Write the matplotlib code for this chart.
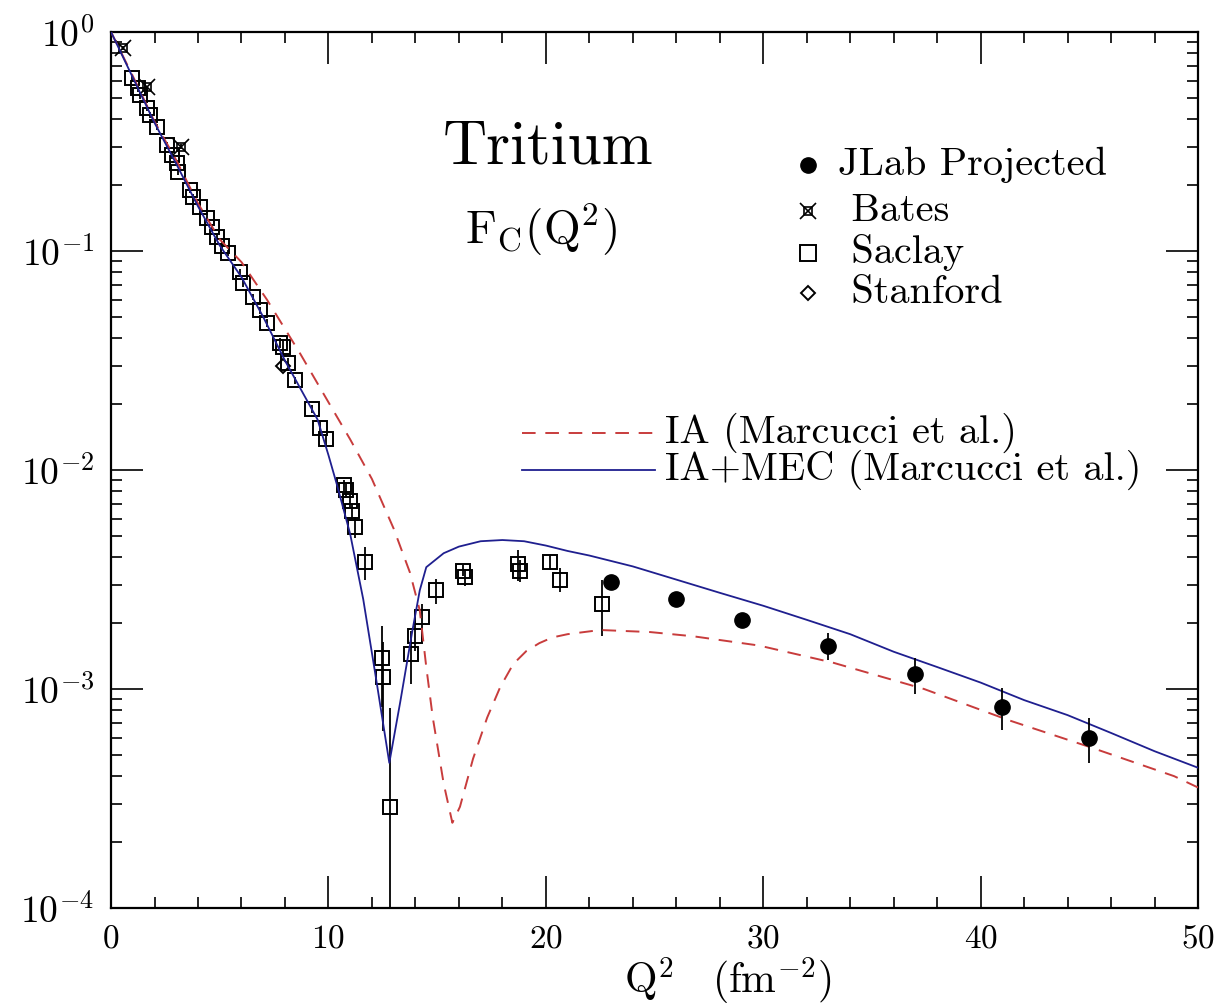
import numpy as np
import matplotlib
matplotlib.use("Agg")
import matplotlib.pyplot as plt
from matplotlib.ticker import LogLocator, MultipleLocator, LogFormatterMathtext, NullFormatter

plt.rcParams['font.family'] = ['cmr10', 'DejaVu Serif']
plt.rcParams['mathtext.fontset'] = 'cm'
plt.rcParams['axes.formatter.use_mathtext'] = True

# ---- data ----
# JLab projected points
jlab_q2 = [23, 26, 29, 33, 37, 41, 45]
jlab_fc = [3.09e-3, 2.57e-3, 2.07e-3, 1.58e-3, 1.17e-3, 8.3e-4, 6.0e-4]
jlab_err = [0.05e-3, 0.05e-3, 0.07e-3, 0.22e-3, 0.22e-3, 0.18e-3, 0.14e-3]

# Bates
bates_q2 = [0.55, 1.65, 3.2]
bates_fc = [0.845, 0.56, 0.30]
bates_err = [0.02, 0.01, 0.008]

# Saclay
saclay_q2 = [0.97, 1.24, 1.33, 1.66, 1.80, 2.10, 2.58, 2.80, 3.04, 3.08,
             3.63, 3.77, 4.10, 4.42, 4.65, 4.88, 5.10, 5.38, 5.93, 6.07,
             6.53, 6.85, 7.17, 7.77, 7.90, 8.14, 8.46, 9.25, 9.60, 9.90,
             10.70, 10.80, 11.00, 11.10, 11.20, 11.70, 12.45, 12.50, 12.83, 13.80,
             14.00, 14.30, 14.95, 16.20, 16.30, 18.70, 18.80, 20.20, 20.65, 22.60]
saclay_fc = [0.62, 0.555, 0.515, 0.45, 0.418, 0.368, 0.305, 0.274, 0.252, 0.230,
             0.190, 0.177, 0.159, 0.142, 0.129, 0.116, 0.106, 0.098, 0.080, 0.0714,
             0.0617, 0.0537, 0.0468, 0.0380, 0.0363, 0.0309, 0.0257, 0.0190, 0.0155, 0.0138,
             0.0085, 0.0081, 0.0072, 0.0065, 0.0055, 0.0038, 0.00138, 0.00114, 0.00029, 0.00145,
             0.00174, 0.00214, 0.00282, 0.00347, 0.00324, 0.00372, 0.00347, 0.00380, 0.00316, 0.00245]
saclay_err = [0.02, 0.02, 0.02, 0.015, 0.015, 0.012, 0.01, 0.01, 0.008, 0.008,
              0.006, 0.006, 0.005, 0.005, 0.004, 0.004, 0.004, 0.003, 0.003, 0.003,
              0.002, 0.002, 0.002, 0.002, 0.003, 0.0015, 0.001, 0.0008, 0.001, 0.0008,
              0.0005, 0.0005, 0.0005, 0.0005, 0.0006, 0.00065, 0.00055, 0.0005, 0.00053, 0.0004,
              0.00025, 0.0003, 0.00037, 0.0002, 0.0003, 0.0006, 0.0004, 0.0003, 0.0004, 0.0007]

# Stanford
stanford_q2 = [7.9]
stanford_fc = [0.030]

# IA+MEC (Marcucci et al.)
mec_q2 = [0, 1, 2, 3, 4, 5, 6, 7, 8, 9, 9.5, 10, 10.4, 11, 11.6, 12.2, 12.8, 13.3,
          13.85, 14.2, 14.5, 15.3, 16, 17, 18, 19, 20, 21, 22, 24, 26, 28, 30, 32,
          34, 36, 38, 40, 42, 44, 46, 48, 50]
mec_fc = [1.0, 0.62, 0.385, 0.25, 0.16, 0.106, 0.076, 0.050, 0.0316, 0.0209, 0.0170,
          0.0117, 0.0085, 0.0051, 0.00257, 0.0011, 0.00046, 0.00087,
          0.00182, 0.00282, 0.0036, 0.00417, 0.00447, 0.00473, 0.00479, 0.00473,
          0.00452, 0.00427, 0.00407, 0.00363, 0.00316, 0.00275, 0.0024, 0.00207,
          0.00178, 0.00148, 0.00126, 0.00107, 0.00089, 0.00076, 0.00063, 0.00052, 0.000437]

# IA (Marcucci et al.)
ia_q2 = [0, 1, 2, 3, 4, 5, 6, 7.17, 8.7, 10, 11, 12, 13, 13.75, 14.2, 14.5,
         14.8, 15.3, 15.7, 16.05, 16.65, 17.3, 17.9, 18.5, 19.1, 19.7, 20.3, 21, 22.5, 24.8,
         26.8, 29.8, 33.2, 37.4, 41.3, 45.1, 48.9, 50]
ia_fc = [1.0, 0.63, 0.39, 0.26, 0.165, 0.113, 0.089, 0.060, 0.034, 0.0204, 0.0138,
         0.0091, 0.0054, 0.0034, 0.00229, 0.00126, 0.00074, 0.00037, 0.000245, 0.00029,
         0.00048, 0.00074, 0.00102, 0.00130, 0.00149, 0.00162, 0.00172, 0.00178, 0.00186, 0.00182,
         0.00174, 0.00158, 0.00132, 0.00100, 0.00072, 0.00054, 0.0004, 0.000355]

blue = '#1f1f8f'
red = '#c83c3c'

fig = plt.figure(figsize=(12.19, 10.08), dpi=100)
ax = fig.add_axes([0.0911, 0.0992, 0.8917, 0.869])

ebkw = dict(ecolor='black', elinewidth=1.3, capsize=0, linestyle='none')
ax.errorbar(saclay_q2, saclay_fc, yerr=saclay_err, marker='s', ms=9.5, mfc='none',
            mec='black', mew=1.4, zorder=3, **ebkw)
ax.errorbar(bates_q2, bates_fc, yerr=bates_err, marker='s', ms=6, mfc='none',
            mec='black', mew=1.2, zorder=3, **ebkw)
ax.plot(bates_q2, bates_fc, linestyle='none', marker='x', ms=11, mec='black', mew=1.2, zorder=3)
ax.plot(stanford_q2, stanford_fc, linestyle='none', marker='D', ms=7, mfc='none',
        mec='black', mew=1.4, zorder=3)

ax.plot(ia_q2, ia_fc, color=red, lw=1.4, dashes=(7, 5), zorder=4)
ax.plot(mec_q2, mec_fc, color=blue, lw=1.3, zorder=4)

ax.errorbar(jlab_q2, jlab_fc, yerr=jlab_err, marker='o', ms=11, mfc='black',
            mec='black', zorder=5, **ebkw)

ax.set_yscale('log')
ax.set_xlim(0, 50)
ax.set_ylim(1e-4, 1)

ax.xaxis.set_major_locator(MultipleLocator(10))
ax.xaxis.set_minor_locator(MultipleLocator(2))
ax.yaxis.set_major_locator(LogLocator(base=10, numticks=10))
ax.yaxis.set_minor_locator(LogLocator(base=10, subs=np.arange(2, 10), numticks=20))
ax.yaxis.set_major_formatter(LogFormatterMathtext())
ax.yaxis.set_minor_formatter(NullFormatter())

ax.tick_params(which='both', direction='in', top=True, right=True, width=1.2, colors='black')
ax.tick_params(which='major', length=23)
ax.tick_params(which='minor', length=8)
ax.tick_params(axis='x', which='major', labelsize=24, pad=12)
ax.tick_params(axis='y', which='major', labelsize=27, pad=12)
for s in ax.spines.values():
    s.set_linewidth(1.6)

# titles
ax.text(0.402, 0.868, 'Tritium', transform=ax.transAxes, ha='center', va='center', fontsize=44)
ax.text(0.396, 0.774, r'$\mathrm{F}_{\mathrm{C}}(\mathrm{Q}^2)$', transform=ax.transAxes,
        ha='center', va='center', fontsize=34)

# marker legend
lx, tx = 0.641, 0.669
rows = [0.848, 0.796, 0.748, 0.702]
ax.plot([lx], [rows[0]], transform=ax.transAxes, marker='o', ms=11, color='black', clip_on=False)
ax.plot([lx], [rows[1]], transform=ax.transAxes, marker='s', ms=6, mfc='none', mec='black', mew=1.2)
ax.plot([lx], [rows[1]], transform=ax.transAxes, marker='x', ms=11, mec='black', mew=1.2)
ax.plot([lx], [rows[2]], transform=ax.transAxes, marker='s', ms=11, mfc='none', mec='black', mew=1.4)
ax.plot([lx], [rows[3]], transform=ax.transAxes, marker='D', ms=7, mfc='none', mec='black', mew=1.4)
for y, lab in zip(rows, ['JLab Projected', ' Bates', ' Saclay', ' Stanford']):
    ax.text(tx, y, lab, transform=ax.transAxes, ha='left', va='center', fontsize=29)

# line legend
ax.plot([0.378, 0.500], [0.542, 0.542], transform=ax.transAxes, color=red, lw=1.4, dashes=(7, 5))
ax.plot([0.378, 0.500], [0.500, 0.500], transform=ax.transAxes, color=blue, lw=1.3)
ax.text(0.510, 0.542, 'IA (Marcucci et al.)', transform=ax.transAxes, ha='left', va='center', fontsize=29)
ax.text(0.510, 0.500, 'IA+MEC (Marcucci et al.)', transform=ax.transAxes, ha='left', va='center', fontsize=29)

ax.text(0.567, -0.084, r'$\mathrm{Q}^2\quad(\mathrm{fm}^{-2})$', transform=ax.transAxes,
        ha='center', va='center', fontsize=30)

fig.savefig('out.png', dpi=100)
